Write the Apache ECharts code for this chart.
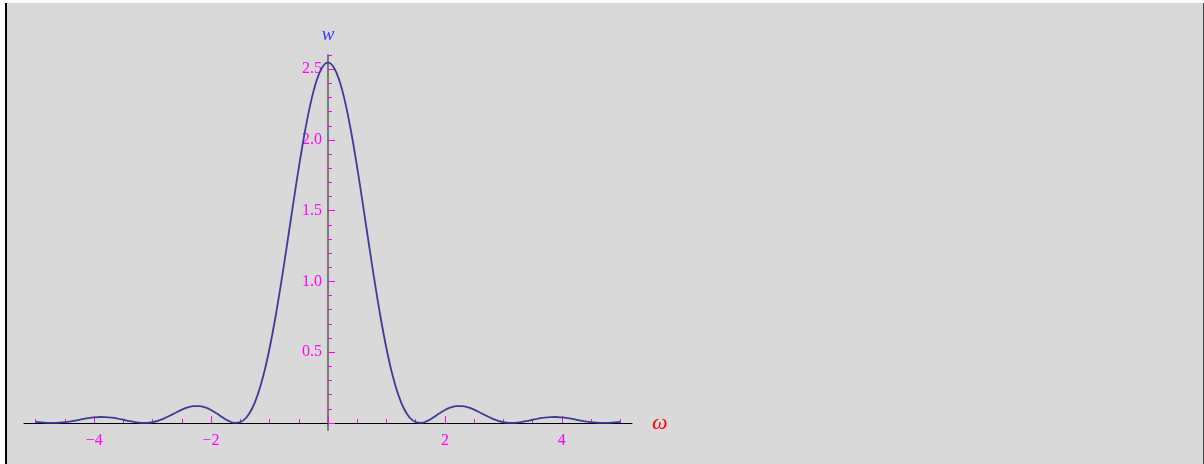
<!DOCTYPE html>
<html>
<head>
<meta charset="utf-8">
<script src="https://cdn.jsdelivr.net/npm/echarts@6/dist/echarts.min.js"></script>
<style>
  html, body { margin: 0; padding: 0; background: #ffffff; }
  #frame { position: absolute; left: 5px; top: 3px; width: 1199px; height: 461px; background: #d9d9d9; border-left: 2px solid #000; border-right: 1px solid #444; box-sizing: border-box; }
  #chart { position: absolute; left: 0; top: 0; width: 1204px; height: 464px; }
</style>
</head>
<body>
<div id="frame"></div>
<div id="chart"></div>
<script>
// ω values (x) and w values (y)
const omega = [
  -5.0, -4.9, -4.8, -4.7, -4.6, -4.5, -4.4, -4.3, -4.2, -4.1,
  -4.0, -3.9, -3.8, -3.7, -3.6, -3.5, -3.4, -3.3, -3.2, -3.1,
  -3.0, -2.9, -2.8, -2.7, -2.6, -2.5, -2.4, -2.3, -2.2, -2.1,
  -2.0, -1.9, -1.8, -1.7, -1.6, -1.5, -1.4, -1.3, -1.2, -1.1,
  -1.0, -0.9, -0.8, -0.7, -0.6, -0.5, -0.4, -0.3, -0.2, -0.1,
  0.0,
  0.1, 0.2, 0.3, 0.4, 0.5, 0.6, 0.7, 0.8, 0.9, 1.0,
  1.1, 1.2, 1.3, 1.4, 1.5, 1.6, 1.7, 1.8, 1.9, 2.0,
  2.1, 2.2, 2.3, 2.4, 2.5, 2.6, 2.7, 2.8, 2.9, 3.0,
  3.1, 3.2, 3.3, 3.4, 3.5, 3.6, 3.7, 3.8, 3.9, 4.0,
  4.1, 4.2, 4.3, 4.4, 4.5, 4.6, 4.7, 4.8, 4.9, 5.0
];
const wValues = [
  0.0075, 0.0036, 0.0008, 0.0000, 0.0015, 0.0053, 0.0112, 0.0186, 0.0264, 0.0335,
  0.0389, 0.0417, 0.0413, 0.0376, 0.0309, 0.0224, 0.0134, 0.0057, 0.0008, 0.0005,
  0.0055, 0.0163, 0.0324, 0.0521, 0.0735, 0.0936, 0.1097, 0.1188, 0.1191, 0.1096,
  0.0911, 0.0660, 0.0385, 0.0144, 0.0008, 0.0056, 0.0364, 0.1001, 0.2017, 0.3439,
  0.5263, 0.7452, 0.9937, 1.2615, 1.5359, 1.8028, 2.0471, 2.2548, 2.4131, 2.5122,
  2.546,
  2.5122, 2.4131, 2.2548, 2.0471, 1.8028, 1.5359, 1.2615, 0.9937, 0.7452, 0.5263,
  0.3439, 0.2017, 0.1001, 0.0364, 0.0056, 0.0008, 0.0144, 0.0385, 0.0660, 0.0911,
  0.1096, 0.1191, 0.1188, 0.1097, 0.0936, 0.0735, 0.0521, 0.0324, 0.0163, 0.0055,
  0.0005, 0.0008, 0.0057, 0.0134, 0.0224, 0.0309, 0.0376, 0.0413, 0.0417, 0.0389,
  0.0335, 0.0264, 0.0186, 0.0112, 0.0053, 0.0015, 0.0000, 0.0008, 0.0036, 0.0075
];
// tick labels / tick positions
const xLabelValues = [-4, -2, 2, 4];
const xMajorTicks = [-4, -2, 0, 2, 4];
const xMinorTicks = [-5, -4.5, -3.5, -3, -2.5, -1.5, -1, -0.5, 0.5, 1, 1.5, 2.5, 3, 3.5, 4.5, 5];
const yLabelValues = [0.5, 1.0, 1.5, 2.0, 2.5];
const yMajorTicks = [0, 0.5, 1.0, 1.5, 2.0, 2.5];
const yMinorTicks = [0.1, 0.2, 0.3, 0.4, 0.6, 0.7, 0.8, 0.9, 1.1, 1.2, 1.3, 1.4, 1.6, 1.7, 1.8, 1.9, 2.1, 2.2, 2.3, 2.4, 2.6];

const X_MIN = -5.2, X_MAX = 5.2, Y_MIN = -0.05, Y_MAX = 2.6;
const MAG = '#ff00ff';
const SERIF = '"Liberation Serif", "DejaVu Serif", serif';

const hiddenX = (gridIndex) => ({ type: 'value', gridIndex, min: X_MIN, max: X_MAX, show: false });
const hiddenY = (gridIndex) => ({ type: 'value', gridIndex, min: Y_MIN, max: Y_MAX, show: false });

const chart = echarts.init(document.getElementById('chart'), null, { renderer: 'canvas' });
chart.setOption({
  animation: false,
  backgroundColor: 'transparent',
  grid: [
    // plot area (series)
    { left: 24, right: 572, top: 55, bottom: 34, containLabel: false, outerBoundsMode: 'none', z: 3 },
    // horizontal axis placed at w = 0
    { left: 24, right: 572, top: 55, bottom: 41, containLabel: false, outerBoundsMode: 'none' },
    // vertical axis placed at ω = 0
    { left: 328, right: 572, top: 55, bottom: 34, containLabel: false, outerBoundsMode: 'none' }
  ],
  xAxis: [
    hiddenX(0),
    {
      type: 'value', gridIndex: 1, min: X_MIN, max: X_MAX, position: 'bottom',
      axisLine: { show: true, onZero: false, lineStyle: { color: '#000', width: 1 } },
      axisTick: { show: true, inside: true, length: 7, customValues: xMajorTicks, lineStyle: { color: MAG, width: 1 } },
      axisLabel: {
        show: true, customValues: xLabelValues, color: MAG, fontFamily: SERIF, fontSize: 16, margin: 10,
        formatter: v => (v < 0 ? '\u2212' + Math.abs(v) : String(v))
      },
      splitLine: { show: false },
      name: 'ω', nameLocation: 'end', nameGap: 20,
      nameTextStyle: { color: '#ff0000', fontFamily: SERIF, fontStyle: 'italic', fontSize: 22, verticalAlign: 'middle', padding: [6, 0, 0, 0] }
    },
    {
      type: 'value', gridIndex: 1, min: X_MIN, max: X_MAX, position: 'bottom',
      axisLine: { show: true, onZero: false, lineStyle: { color: 'rgba(0,0,0,0)', width: 1 } },
      axisTick: { show: true, inside: true, length: 4, customValues: xMinorTicks, lineStyle: { color: MAG, width: 1 } },
      axisLabel: { show: false },
      splitLine: { show: false }
    },
    hiddenX(2)
  ],
  yAxis: [
    hiddenY(0),
    hiddenY(1),
    {
      type: 'value', gridIndex: 2, min: Y_MIN, max: Y_MAX, position: 'left',
      axisLine: { show: true, onZero: false, lineStyle: { color: '#7a7a7a', width: 2 } },
      axisTick: { show: true, inside: true, length: 7, customValues: yMajorTicks, lineStyle: { color: MAG, width: 1 } },
      axisLabel: {
        show: true, customValues: yLabelValues, color: MAG, fontFamily: SERIF, fontSize: 16, margin: 6,
        formatter: v => v.toFixed(1)
      },
      splitLine: { show: false },
      name: 'w', nameLocation: 'end', nameGap: 11,
      nameTextStyle: { color: '#3333ff', fontFamily: SERIF, fontStyle: 'italic', fontSize: 19, align: 'center' }
    },
    {
      type: 'value', gridIndex: 2, min: Y_MIN, max: Y_MAX, position: 'left',
      axisLine: { show: true, onZero: false, lineStyle: { color: 'rgba(0,0,0,0)', width: 1 } },
      axisTick: { show: true, inside: true, length: 4, customValues: yMinorTicks, lineStyle: { color: MAG, width: 1 } },
      axisLabel: { show: false },
      splitLine: { show: false }
    }
  ],
  series: [
    {
      type: 'line',
      xAxisIndex: 0, yAxisIndex: 0,
      data: omega.map((x, i) => [x, wValues[i]]),
      showSymbol: false,
      smooth: 0.4,
      lineStyle: { color: '#3d3d99', width: 1.8 },
      z: 5
    }
  ]
});
</script>
</body>
</html>
